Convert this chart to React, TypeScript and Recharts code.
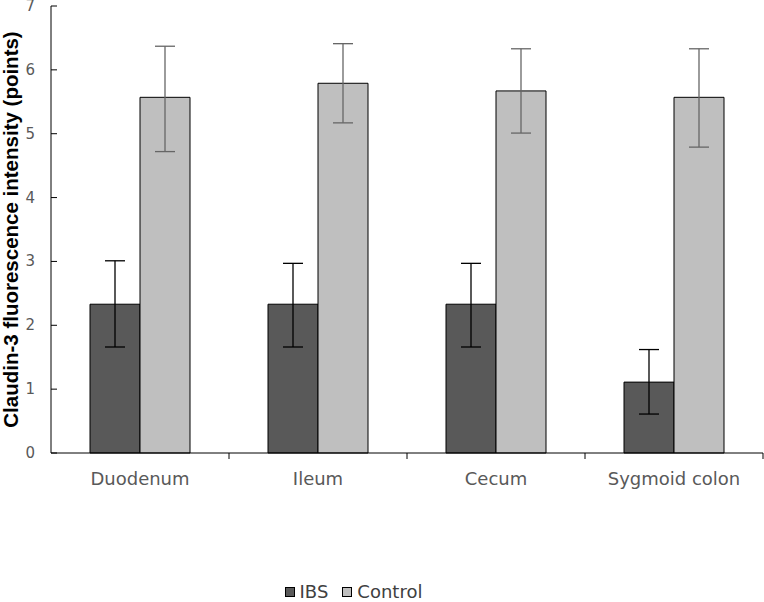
import { BarChart, Bar, XAxis, YAxis, ErrorBar, Legend } from 'recharts';

const categories = ['Duodenum', 'Ileum', 'Cecum', 'Sygmoid colon'];
const ibs = [2.33, 2.33, 2.33, 1.11];
const ibsErr: [number, number][] = [[0.67, 0.68], [0.67, 0.64], [0.67, 0.64], [0.5, 0.51]];
const control = [5.57, 5.79, 5.67, 5.57];
const controlErr: [number, number][] = [[0.85, 0.8], [0.62, 0.62], [0.66, 0.66], [0.78, 0.76]];
const yTicks = [0, 1, 2, 3, 4, 5, 6, 7];

const IBS_COLOR = '#595959';
const CONTROL_COLOR = '#bfbfbf';
const TEXT_COLOR = '#595959';

const data = categories.map((name, i) => ({
  name,
  ibs: ibs[i],
  ibsErr: ibsErr[i],
  control: control[i],
  controlErr: controlErr[i],
}));

function XTick(props: any) {
  const { x, y, payload } = props;
  const half = payload?.offset ?? 89;
  return (
    <g>
      <line x1={x + half} x2={x + half} y1={y} y2={y + 6} stroke="#000" strokeWidth={1} />
      <text
        x={x}
        y={y + 25}
        textAnchor="middle"
        dominantBaseline="central"
        fontFamily="DejaVu Sans"
        fontSize={18}
        fill={TEXT_COLOR}
      >
        {payload.value}
      </text>
    </g>
  );
}

function YTick(props: any) {
  const { x, y, payload } = props;
  return (
    <g>
      <line x1={x + 16} x2={x + 22} y1={y} y2={y} stroke="#000" strokeWidth={1} />
      <text
        x={x}
        y={y}
        textAnchor="end"
        dominantBaseline="central"
        fontFamily="DejaVu Sans"
        fontSize={15}
        fill={TEXT_COLOR}
      >
        {payload.value}
      </text>
    </g>
  );
}

function LegendContent() {
  const items = [
    { label: 'IBS', color: IBS_COLOR },
    { label: 'Control', color: CONTROL_COLOR },
  ];
  return (
    <div
      style={{
        display: 'flex',
        justifyContent: 'center',
        alignItems: 'center',
        gap: 14,
        fontFamily: 'DejaVu Sans',
        fontSize: 18,
        lineHeight: '20px',
        color: '#404040',
        height: 20,
        marginLeft: -56,
      }}
    >
      {items.map((it) => (
        <div key={it.label} style={{ display: 'flex', alignItems: 'center', gap: 5 }}>
          <span
            style={{
              display: 'inline-block',
              width: 8,
              height: 8,
              background: it.color,
              border: '1px solid #000',
            }}
          />
          <span>{it.label}</span>
        </div>
      ))}
    </div>
  );
}

export default function App() {
  return (
    <div style={{ position: 'absolute', left: 0, top: 0, width: 764, height: 602, background: '#fff' }}>
      <BarChart
        width={764}
        height={602}
        data={data}
        margin={{ top: 6, right: 1, left: 0, bottom: 0 }}
        barCategoryGap={39}
        barGap={0}
      >
        <XAxis
          dataKey="name"
          height={129}
          stroke="#000"
          tickLine={false}
          tickSize={0}
          tickMargin={0}
          tick={<XTick />}
          interval={0}
        />
        <YAxis
          width={51}
          domain={[0, 7]}
          ticks={yTicks}
          stroke="#000"
          tickLine={false}
          tickSize={0}
          tickMargin={16}
          tick={<YTick />}
          interval={0}
          label={{
            value: 'Claudin-3 fluorescence intensity (points)',
            angle: -90,
            position: 'insideLeft',
            offset: 0,
            dx: 11,
            style: {
              textAnchor: 'middle',
              fontFamily: 'Liberation Sans',
              fontWeight: 'bold',
              fontSize: 20.5,
              fill: '#000',
            },
          }}
        />
        <Legend
          verticalAlign="bottom"
          height={20}
          wrapperStyle={{ height: 20 }}
          content={<LegendContent />}
        />
        <Bar dataKey="ibs" name="IBS" fill={IBS_COLOR} stroke="#000" strokeWidth={1} isAnimationActive={false}>
          <ErrorBar dataKey="ibsErr" width={10} stroke="#000" strokeWidth={1.3} direction="y" />
        </Bar>
        <Bar dataKey="control" name="Control" fill={CONTROL_COLOR} stroke="#000" strokeWidth={1} isAnimationActive={false}>
          <ErrorBar dataKey="controlErr" width={10} stroke="#666" strokeWidth={1.3} direction="y" />
        </Bar>
      </BarChart>
    </div>
  );
}
